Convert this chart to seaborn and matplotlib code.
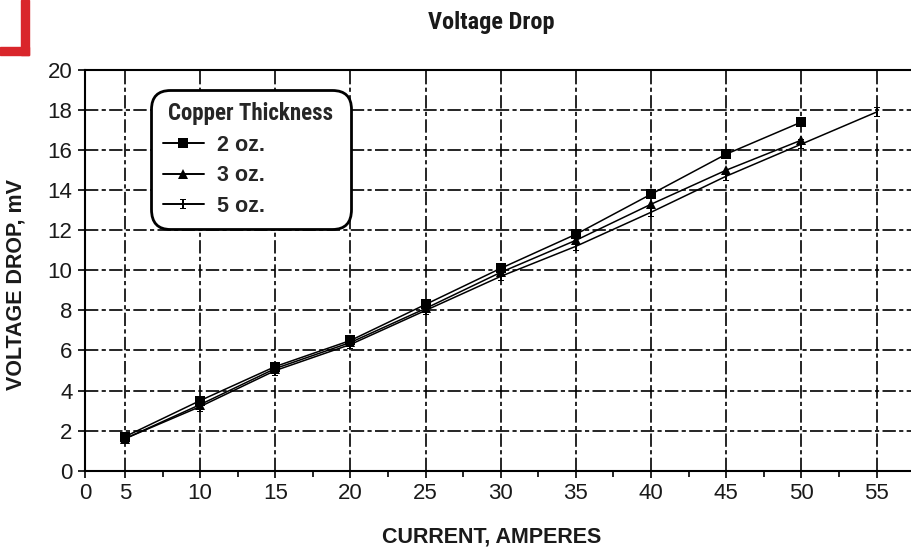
import matplotlib
matplotlib.use("Agg")
import matplotlib.pyplot as plt
from matplotlib import font_manager
from matplotlib.font_manager import FontProperties
from matplotlib.path import Path
from matplotlib.patches import Rectangle
import pandas as pd
import seaborn as sns

# Measured voltage drop (mV) versus current (A) for three copper weights
current_2oz = [5, 10, 15, 20, 25, 30, 35, 40, 45, 50]
drop_2oz = [1.7, 3.5, 5.2, 6.5, 8.3, 10.1, 11.8, 13.8, 15.8, 17.4]

current_3oz = [5, 10, 15, 20, 25, 30, 35, 40, 45, 50]
drop_3oz = [1.6, 3.3, 5.1, 6.4, 8.1, 9.9, 11.5, 13.3, 15.0, 16.5]

current_5oz = [5, 10, 15, 20, 25, 30, 35, 40, 45, 50, 55]
drop_5oz = [1.6, 3.2, 5.0, 6.3, 8.0, 9.7, 11.2, 12.9, 14.7, 16.3, 17.9]

series_names = ["2 oz.", "3 oz.", "5 oz."]

x_tick_values = [5, 10, 15, 20, 25, 30, 35, 40, 45, 50, 55]
x_tick_labels = ["5", "10", "15", "20", "25", "30", "35", "40", "45", "50", "55"]
y_tick_values = [0, 2, 4, 6, 8, 10, 12, 14, 16, 18, 20]

frames = []
for name, xs, ys in zip(series_names,
                        [current_2oz, current_3oz, current_5oz],
                        [drop_2oz, drop_3oz, drop_5oz]):
    frames.append(pd.DataFrame({"current": xs, "drop": ys, "thickness": name}))
data = pd.concat(frames, ignore_index=True)

sns.set_theme(style="white")


def pick_font(candidates):
    for fam in candidates:
        try:
            font_manager.findfont(FontProperties(family=fam), fallback_to_default=False)
            return fam
        except Exception:
            continue
    return "DejaVu Sans"


regular = pick_font(["Liberation Sans", "Arial", "DejaVu Sans"])
narrow = pick_font(["Liberation Sans Narrow", "DejaVu Sans Condensed", "Roboto Condensed", regular])
plt.rcParams["font.family"] = [regular, "DejaVu Sans"]

# I-beam marker for the 5 oz. series
ibeam = Path([(-0.55, 1.0), (0.55, 1.0), (0.55, 0.78), (0.13, 0.78), (0.13, -0.78),
              (0.55, -0.78), (0.55, -1.0), (-0.55, -1.0), (-0.55, -0.78), (-0.13, -0.78),
              (-0.13, 0.78), (-0.55, 0.78), (-0.55, 1.0)])

W, H = 911, 548
fig = plt.figure(figsize=(W / 100, H / 100), dpi=100)
left_px, right_px, top_px, bottom_px = 85, 911, 70, 470.7
ax = fig.add_axes([left_px / W, 1 - bottom_px / H,
                   (right_px - left_px) / W, (bottom_px - top_px) / H])

sns.lineplot(data=data, x="current", y="drop", hue="thickness", style="thickness",
             palette={n: "black" for n in series_names},
             markers={"2 oz.": "s", "3 oz.": "^", "5 oz.": ibeam},
             dashes=False, markersize=7.5, linewidth=1.1, markeredgewidth=0,
             ax=ax, legend=True)

x_left = 5 - 40 / 15.03
x_right = 55 + (911 - 876.5) / 15.03
ax.set_xlim(x_left, x_right)
ax.set_ylim(0, 20)

ax.set_xticks([x_left] + x_tick_values)
ax.set_xticklabels(["0"] + x_tick_labels)
ax.set_xticks([v + 2.5 for v in x_tick_values[:-1]], minor=True)
ax.set_yticks(y_tick_values)
ax.set_yticklabels([str(v) for v in y_tick_values])

ax.tick_params(axis="both", which="major", direction="out", length=5, width=1.2,
               color="black", labelsize=16, labelcolor="#1a1a1a", pad=4)
ax.tick_params(axis="x", which="minor", direction="out", length=4, width=1.2,
               color="black", bottom=True)
ax.tick_params(axis="x", which="major", bottom=True)
ax.tick_params(axis="y", which="major", left=True)

ax.grid(True, which="major", color="black", linewidth=1.2,
        linestyle=(0, (8, 2, 2.5, 2)))
ax.set_axisbelow(True)

for side in ["left", "bottom", "top"]:
    ax.spines[side].set_visible(True)
    ax.spines[side].set_color("black")
    ax.spines[side].set_linewidth(1.5)
ax.spines["right"].set_visible(False)

ax.set_xlabel("")
ax.set_ylabel("")

# Legend in a rounded box
ax_w_px = right_px - left_px
ax_h_px = bottom_px - top_px
box_left, box_right, box_top, box_bottom = 151, 351, 90, 220
handles, labels = ax.get_legend_handles_labels()
leg = ax.legend(handles, labels, title="Copper Thickness", loc="upper left",
                bbox_to_anchor=((box_left - left_px) / ax_w_px,
                                (bottom_px - box_bottom) / ax_h_px,
                                (box_right - box_left) / ax_w_px,
                                (box_bottom - box_top) / ax_h_px),
                mode="expand", borderaxespad=0, frameon=True, fancybox=True,
                prop=FontProperties(family=[regular, "DejaVu Sans"], weight="bold", size=15.5),
                handlelength=1.9, handletextpad=0.6, labelspacing=0.45,
                borderpad=0.55, framealpha=1.0)
leg.get_title().set_fontproperties(FontProperties(family=[narrow, "DejaVu Sans"],
                                                  weight="bold", size=16.5))
leg._legend_box.align = "center"
frame = leg.get_frame()
frame.set_edgecolor("black")
frame.set_linewidth(2.0)
frame.set_boxstyle("round", pad=0.0, rounding_size=0.9)
for h in leg.legend_handles:
    h.set_color("black")
    h.set_linewidth(1.4)
    h.set_markersize(7.5)

fig.text(491 / W, 1 - 23 / H, "Voltage Drop", ha="center", va="center",
         fontsize=17.5, fontweight="bold", family=[narrow, "DejaVu Sans"], color="#1a1a1a")
fig.text(16 / W, 1 - 285 / H, "VOLTAGE DROP, mV", ha="center", va="center",
         rotation=90, fontsize=15.5, fontweight="bold", color="#1a1a1a")
fig.text(492 / W, 1 - 537 / H, "CURRENT, AMPERES", ha="center", va="center",
         fontsize=15.5, fontweight="bold", color="#1a1a1a")

# Red corner bracket at the top left
red = "#d9262b"
fig.patches.append(Rectangle((21 / W, 1 - 55 / H), 8 / W, 55 / H,
                             transform=fig.transFigure, color=red, zorder=5))
fig.patches.append(Rectangle((0, 1 - 55 / H), 29 / W, 8 / H,
                             transform=fig.transFigure, color=red, zorder=5))

fig.savefig("out.png", dpi=100)
